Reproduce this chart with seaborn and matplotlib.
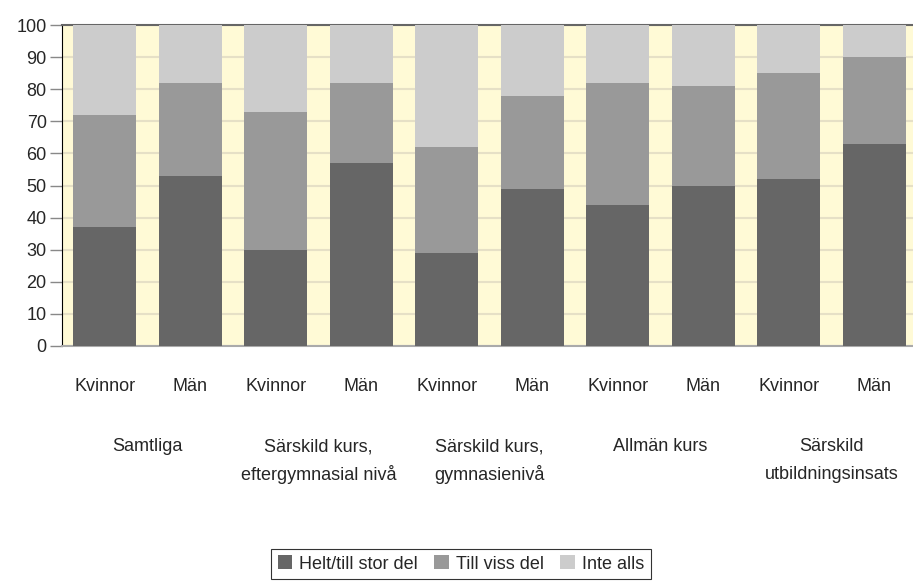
import pandas as pd
import seaborn as sns
import matplotlib.pyplot as plt
from matplotlib import font_manager
from matplotlib.patches import Patch

# Values (percent)
groups = ["Samtliga", "Särskild kurs,\neftergymnasial nivå", "Särskild kurs,\ngymnasienivå",
          "Allmän kurs", "Särskild\nutbildningsinsats"]
genders = ["Kvinnor", "Män"]
helt = [37, 53, 30, 57, 29, 49, 44, 50, 52, 63]
viss = [35, 29, 43, 25, 33, 29, 38, 31, 33, 27]
inte = [28, 18, 27, 18, 38, 22, 18, 19, 15, 10]
series = ["Helt/till stor del", "Till viss del", "Inte alls"]
colors = ["#666666", "#999999", "#cccccc"]

ids = [f"{g}|{k}" for g in groups for k in genders]
df = pd.DataFrame({"id": ids, "helt": helt, "viss": viss, "inte": inte})
df["top_viss"] = df["helt"] + df["viss"]
df["top_inte"] = df["top_viss"] + df["inte"]

sns.set_style("white")
names = {f.name for f in font_manager.fontManager.ttflist}
if "Liberation Sans Narrow" in names:
    plt.rcParams["font.family"] = ["Liberation Sans Narrow", "DejaVu Sans"]
    fs = 15
else:
    plt.rcParams["font.family"] = ["Liberation Sans", "DejaVu Sans"]
    fs = 13

fig = plt.figure(figsize=(9.13, 5.87), dpi=100)
ax = fig.add_axes([62 / 913, 241 / 587, 855 / 913, 321 / 587])
ax.set_facecolor("#fffad6")

# stacked bars: draw cumulative tops, tallest first
for col, c in zip(["top_inte", "top_viss", "helt"], colors[::-1]):
    sns.barplot(data=df, x="id", y=col, order=ids, color=c, width=0.74,
                saturation=1, linewidth=0, ax=ax, zorder=3)

ax.set_xlim(-0.5, 9.5)
ax.set_ylim(0, 100)
ax.set_yticks(range(0, 101, 10))
ax.yaxis.grid(True, color="#e6e0c6", linewidth=1.5, zorder=0)
ax.set_axisbelow(True)
ax.set_xlabel("")
ax.set_ylabel("")
ax.set_xticks(range(len(ids)))
ax.set_xticklabels(genders * len(groups), fontsize=fs)
ax.tick_params(axis="x", length=0, pad=23)
ax.tick_params(axis="y", length=9, width=1, color="#888888", direction="out",
               left=True, labelsize=fs, pad=2)

ax.spines["left"].set_color("black")
ax.spines["top"].set_color("#666666")
ax.spines["top"].set_linewidth(1.5)
ax.spines["bottom"].set_color("#aaaaaa")
ax.spines["bottom"].set_linewidth(1.5)
ax.spines["right"].set_visible(False)

# group labels under each pair of bars
for i, g in enumerate(groups):
    for j, line in enumerate(g.split("\n")):
        ypix = 587 - (446.5 + 28 * j)
        ax.annotate(line, xy=(2 * i + 0.5, 0), xycoords=("data", "axes fraction"),
                    xytext=(0, ypix - 241), textcoords="offset pixels",
                    ha="center", va="center", fontsize=fs, annotation_clip=False)

handles = [Patch(facecolor=c, edgecolor="none") for c in colors]
leg = fig.legend(handles, series, loc="center", bbox_to_anchor=(461 / 913, 1 - 564 / 587),
                 ncol=3, frameon=True, fancybox=False, fontsize=fs, handlelength=0.8,
                 handleheight=0.8, handletextpad=0.4, columnspacing=0.9, borderpad=0.35)
leg.get_frame().set_edgecolor("black")
leg.get_frame().set_linewidth(0.8)

fig.savefig("out.png", dpi=100)
